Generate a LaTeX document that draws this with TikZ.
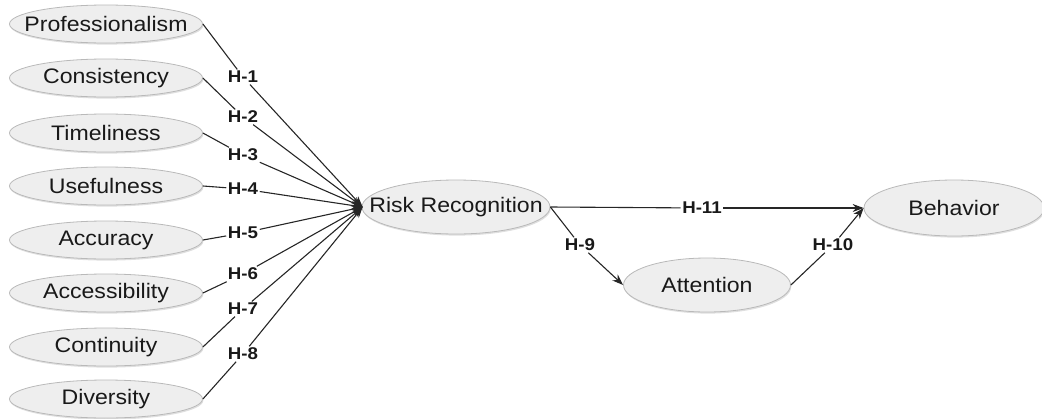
\documentclass[tikz,border=0pt]{standalone}
\usepackage{fontspec}
\setmainfont{Liberation Sans}[FakeStretch=1.10]
\usetikzlibrary{shapes.geometric,arrows.meta,shadows}
\tikzset{
  ell/.style={ellipse, draw=gray!55, line width=0.8pt, fill=gray!13, inner sep=0pt,
    drop shadow={opacity=0.25, shadow xshift=0.8pt, shadow yshift=-1.6pt}},
  small/.style={ell, minimum width=193pt, minimum height=38pt},
  etext/.style={font=\fontsize{21}{25}\selectfont, text=black!90},
  hlab/.style={font=\fontsize{17}{20}\selectfont\bfseries, fill=white, inner sep=1.5pt, text=black!90},
  conn/.style={line width=1.1pt, black!85},
  arr/.style={conn, -{Stealth[length=11pt, width=8pt]}},
}
\begin{document}
\begin{tikzpicture}[x=1pt, y=-1pt]
\useasboundingbox (0,0) rectangle (1042,418);
% left ellipses
\node[small, label={[etext]center:Professionalism}] (prof) at (106,24) {};
\node[small, label={[etext]center:Consistency}] (cons) at (106,78) {};
\node[small, label={[etext]center:Timeliness}] (time) at (106,133) {};
\node[small, label={[etext]center:Usefulness}] (usef) at (106,186) {};
\node[small, label={[etext]center:Accuracy}] (accu) at (106,240) {};
\node[small, label={[etext]center:Accessibility}] (acce) at (106,293) {};
\node[small, label={[etext]center:Continuity}] (cont) at (106,347) {};
\node[small, label={[etext]center:Diversity}] (dive) at (106,399) {};
% main ellipses
\node[ell, minimum width=188pt, minimum height=54pt, label={[etext]center:Risk Recognition}] (risk) at (456,207) {};
\node[ell, minimum width=167pt, minimum height=54pt, label={[etext]center:Attention}] (att) at (707,285) {};
\node[ell, minimum width=180pt, minimum height=56pt, label={[etext]center:Behavior}] (beh) at (954,208) {};
% labels
\node[hlab] (h1) at (243,77) {H-1};
\node[hlab] (h2) at (243,117) {H-2};
\node[hlab] (h3) at (243,155) {H-3};
\node[hlab] (h4) at (243,189) {H-4};
\node[hlab] (h5) at (243,233) {H-5};
\node[hlab] (h6) at (243,274) {H-6};
\node[hlab] (h7) at (243,309) {H-7};
\node[hlab] (h8) at (243,354) {H-8};
\node[hlab] (h9) at (580,245) {H-9};
\node[hlab] (h10) at (833,245) {H-10};
\node[hlab] (h11) at (702,208) {H-11};
\coordinate (rw) at ([xshift=1pt]risk.west);
% connectors
\draw[conn] (prof.east) -- (h1); \draw[arr] (h1) -- (rw);
\draw[conn] (cons.east) -- (h2); \draw[arr] (h2) -- (rw);
\draw[conn] (time.east) -- (h3); \draw[arr] (h3) -- (rw);
\draw[conn] (usef.east) -- (h4); \draw[arr] (h4) -- (rw);
\draw[conn] (accu.east) -- (h5); \draw[arr] (h5) -- (rw);
\draw[conn] (acce.east) -- (h6); \draw[arr] (h6) -- (rw);
\draw[conn] (cont.east) -- (h7); \draw[arr] (h7) -- (rw);
\draw[conn] (dive.east) -- (h8); \draw[arr] (h8) -- (rw);
\draw[conn] (risk.east) -- (h11); \draw[arr] (h11) -- (beh.west);
\draw[conn] (risk.east) -- (h9); \draw[arr] (h9) -- (att.west);
\draw[conn] (att.east) -- (h10); \draw[arr] (h10) -- (beh.west);
\end{tikzpicture}
\end{document}
